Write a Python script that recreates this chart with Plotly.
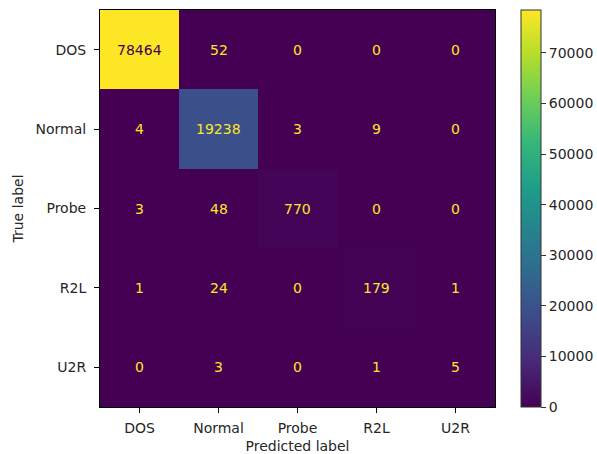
import plotly.graph_objects as go

labels = ["DOS", "Normal", "Probe", "R2L", "U2R"]
matrix = [
    [78464, 52, 0, 0, 0],
    [4, 19238, 3, 9, 0],
    [3, 48, 770, 0, 0],
    [1, 24, 0, 179, 1],
    [0, 3, 0, 1, 5],
]
cbar_ticks = [0, 10000, 20000, 30000, 40000, 50000, 60000, 70000]

FONT = "DejaVu Sans"
zmax = max(max(r) for r in matrix)
zmin = min(min(r) for r in matrix)
thresh = (zmax + zmin) / 2

fig = go.Figure()
fig.add_trace(go.Heatmap(
    z=matrix, x=labels, y=labels,
    colorscale="Viridis", zmin=zmin, zmax=zmax,
    xgap=0, ygap=0,
    colorbar=dict(
        x=1.066, xanchor="left", xref="paper", xpad=0, ypad=0,
        y=0, yanchor="bottom", len=1, lenmode="fraction",
        thickness=20, outlinewidth=1, outlinecolor="#333",
        tickvals=cbar_ticks, tickformat="d", ticks="outside", ticklen=5, tickcolor="#333",
        tickfont=dict(family=FONT, size=14, color="#262626"),
    ),
    hoverinfo="skip",
))

for i, row in enumerate(matrix):
    for j, v in enumerate(row):
        fig.add_annotation(
            x=labels[j], y=labels[i], text=str(v), showarrow=False,
            font=dict(family=FONT, size=14, color="#440154" if v >= thresh else "#fde725"),
        )

axis_common = dict(
    showline=True, linecolor="black", linewidth=1, mirror=True,
    ticks="outside", ticklen=5, tickcolor="black",
    tickfont=dict(family=FONT, size=14, color="#262626"),
    showgrid=False, zeroline=False,
)
fig.update_xaxes(title=dict(text="Predicted label", font=dict(family=FONT, size=14, color="#262626"), standoff=6),
                 ticklabelstandoff=3, **axis_common)
fig.update_yaxes(title=dict(text="True label", font=dict(family=FONT, size=14, color="#262626"), standoff=8),
                 ticklabelstandoff=5, autorange="reversed", **axis_common)

fig.update_layout(
    width=597, height=454,
    margin=dict(l=100, r=102, t=10, b=47, autoexpand=False),
    plot_bgcolor="white", paper_bgcolor="white",
    font=dict(family=FONT, size=14),
)
fig.write_html("out.html")
